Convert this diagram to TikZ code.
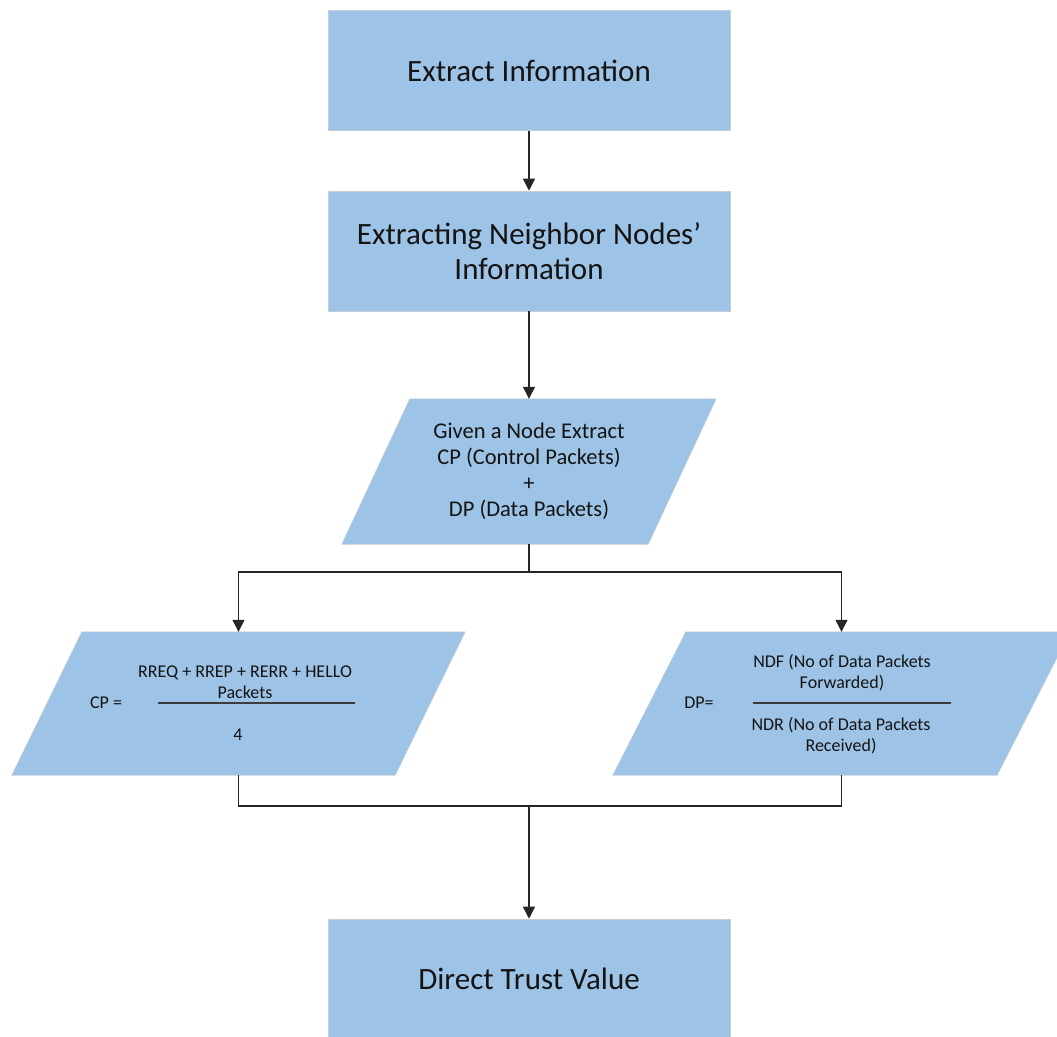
\documentclass[tikz,border=0pt]{standalone}
\usepackage{fontspec}
\setmainfont{Carlito}
\usetikzlibrary{arrows.meta,calc}
\definecolor{boxblue}{RGB}{157,195,230}
\definecolor{boxedge}{RGB}{196,206,216}
\definecolor{txt}{RGB}{20,20,20}
\definecolor{fracline}{RGB}{60,60,60}
\tikzset{
  procbox/.style={rectangle, fill=boxblue, draw=boxedge, line width=0.6pt,
    minimum width=402pt, minimum height=120pt, inner sep=0pt,
    text=txt, align=center, font=\fontsize{31}{35}\selectfont},
  pbox/.style={rectangle, inner sep=0pt, minimum width=#1, minimum height=144pt},
  pfill/.style={fill=boxblue, draw=boxedge, line width=0.6pt},
  conn/.style={line width=1.3pt, black!85},
  arrowc/.style={conn, -{Triangle[width=12pt,length=12pt]}},
  midtext/.style={text=txt, align=center, font=\fontsize{22.5}{26}\selectfont},
  smalltext/.style={text=txt, align=center, font=\fontsize{18}{21}\selectfont},
}
\begin{document}
\begin{tikzpicture}[x=1pt,y=-1pt]
\useasboundingbox (0,0) rectangle (1057,1036);

% boxes
\node[procbox] (b1) at (529,70.5) {Extract Information};
\node[procbox] (b2) at (529,251) {Extracting Neighbor Nodes'\\Information};
\node[procbox] (b3) at (529,979) {Direct Trust Value};

% parallelogram placeholders
\node[pbox=374pt, minimum height=145pt] (p1) at (529,471.5) {};
\node[pbox=453pt, minimum height=143pt] (pl) at (238.5,703.5) {};
\node[pbox=457pt, minimum height=143pt] (pr) at (841.5,703.5) {};

% parallelogram shapes
\fill[pfill] (p1.south west) -- ($(p1.south east)+(-68,0)$) -- (p1.north east) -- ($(p1.north west)+(68,0)$) -- cycle;
\fill[pfill] (pl.south west) -- ($(pl.south east)+(-70,0)$) -- (pl.north east) -- ($(pl.north west)+(70,0)$) -- cycle;
\fill[pfill] (pr.south west) -- ($(pr.south east)+(-73,0)$) -- (pr.north east) -- ($(pr.north west)+(73,0)$) -- cycle;

% texts
\node[midtext] (t1) at (529,471) {Given a Node Extract\\CP (Control Packets)\\+\\DP (Data Packets)};

\node[smalltext] (cpl) at (106,703) {CP =};
\node[smalltext] (cpn) at (245,682) {RREQ + RREP + RERR + HELLO\\Packets};
\node[smalltext] (cpd) at (238,735) {4};
\coordinate (cpa) at (158,703);
\coordinate (cpb) at (355,703);
\draw[fracline, line width=2.5pt] (cpa) -- (cpb);

\node[smalltext] (dpl) at (699,703) {DP=};
\node[smalltext] (dpn) at (842,673) {NDF (No of Data Packets\\Forwarded)};
\node[smalltext] (dpd) at (841,736) {NDR (No of Data Packets\\Received)};
\coordinate (dpa) at (753,703);
\coordinate (dpb) at (951,703);
\draw[fracline, line width=2.5pt] (dpa) -- (dpb);

% connectors
\draw[arrowc] (b1.south) -- (b2.north);
\draw[arrowc] (b2.south) -- (p1.north);
\coordinate (split) at (529,572);
\draw[conn] (p1.south) -- (split);
\draw[arrowc] (split) -| (pl.north);
\draw[arrowc] (split) -| (pr.north);
\coordinate (join) at (529,806);
\draw[conn] (pl.south) |- (join) -| (pr.south);
\draw[arrowc] (join) -- (b3.north);
\end{tikzpicture}
\end{document}
